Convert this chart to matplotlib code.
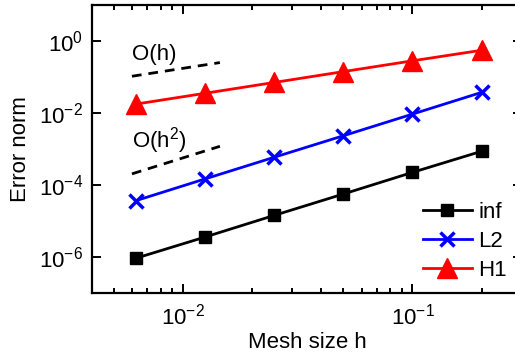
import matplotlib
matplotlib.use('Agg')
import matplotlib.pyplot as plt
from matplotlib.ticker import LogLocator, NullLocator, NullFormatter

plt.rcParams['font.family'] = ['Liberation Sans', 'DejaVu Sans']
plt.rcParams['mathtext.fontset'] = 'custom'
plt.rcParams['mathtext.rm'] = 'Liberation Sans'
plt.rcParams['mathtext.it'] = 'Liberation Sans:italic'

# mesh sizes and error norms
h = [0.00625, 0.0125, 0.025, 0.05, 0.1, 0.2]
err_inf = [9.0e-7, 3.5e-6, 1.4e-5, 5.5e-5, 2.2e-4, 8.5e-4]
err_l2 = [3.6e-5, 1.45e-4, 5.8e-4, 2.3e-3, 9.2e-3, 3.7e-2]
err_h1 = [0.0175, 0.035, 0.07, 0.14, 0.28, 0.55]

# reference slopes
ref_x = [0.006, 0.0145]
ref_h = [0.104, 0.25]
ref_h2 = [2.0e-4, 1.17e-3]

fs = 16
fig = plt.figure(figsize=(5.15, 3.55), dpi=100)
ax = fig.add_axes([91.5 / 515, 62.5 / 355, (522 - 91.5) / 515, (292.5 - 5) / 355])

lw = 2
ax.plot(h, err_inf, 'k-s', lw=lw, ms=9, label='inf')
ax.plot(h, err_l2, '-x', color='#0000ff', lw=lw, ms=9.5, mew=2.5, label='L2')
ax.plot(h, err_h1, '-^', color='#ff0000', lw=lw, ms=14, label='H1')

ax.plot(ref_x, ref_h, 'k--', lw=lw, dashes=(3.5, 2.5))
ax.plot(ref_x, ref_h2, 'k--', lw=lw, dashes=(3.5, 2.5))
ax.text(0.006, 0.42, 'O(h)', fontsize=fs, ha='left', va='center')
ax.text(0.006, 1.7e-3, 'O(h$^2$)', fontsize=fs, ha='left', va='center')

ax.set_xscale('log')
ax.set_yscale('log')
ax.set_xlim(0.004, 0.3)
ax.set_ylim(1e-7, 1e1)
ax.set_yticks([1e-6, 1e-4, 1e-2, 1e0])
ax.yaxis.set_minor_locator(NullLocator())
ax.set_xticks([1e-2, 1e-1])
ax.xaxis.set_minor_locator(LogLocator(base=10, subs=range(2, 10)))
ax.xaxis.set_minor_formatter(NullFormatter())

ax.tick_params(which='both', direction='in', top=True, right=True, labelsize=fs, width=1.4)
ax.tick_params(which='major', length=6.5, pad=6)
ax.tick_params(axis='x', which='major', pad=8)
ax.tick_params(which='minor', length=3.6)
for s in ax.spines.values():
    s.set_linewidth(1.6)

ax.set_xlabel('Mesh size h', fontsize=fs)
ax.set_ylabel('Error norm', fontsize=fs)
ax.xaxis.set_label_coords((307.5 - 91.5) / 430.5, -(343 - 292.5) / 287.5)
ax.yaxis.set_label_coords(-(21 - 91.5) / -430.5, 0.5)
ax.xaxis.label.set_va('center')
ax.yaxis.label.set_va('center')

ax.legend(loc='upper left', bbox_to_anchor=(423 / 515, 1 - 202 / 355),
          bbox_transform=fig.transFigure, frameon=False, fontsize=fs,
          borderpad=0, borderaxespad=0, handlelength=2.2, handletextpad=0.3,
          labelspacing=0.36)

fig.savefig('out.png', dpi=100)
